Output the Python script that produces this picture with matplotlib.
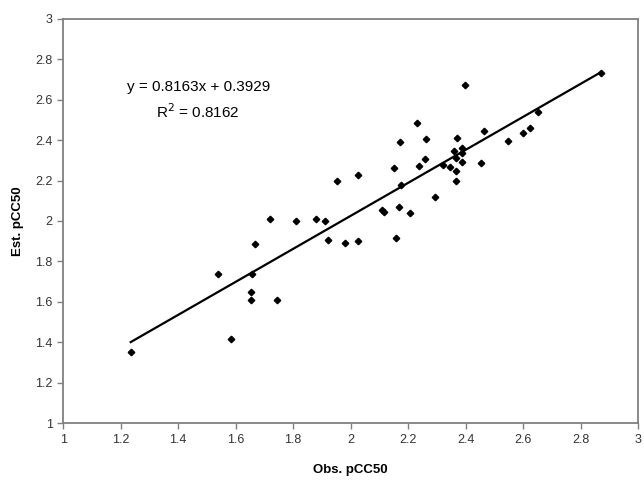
import numpy as np
import matplotlib.pyplot as plt

plt.rcParams['font.family'] = ['Liberation Sans', 'DejaVu Sans']

obs = [1.235, 1.537, 1.584, 1.657, 1.668, 1.655, 1.655, 1.744, 1.720, 1.809,
       1.878, 1.911, 1.922, 1.981, 2.025, 2.157, 1.952, 2.027, 2.398, 2.232,
       2.172, 2.263, 2.370, 2.465, 2.151, 2.238, 2.260, 2.320, 2.346, 2.359,
       2.387, 2.388, 2.366, 2.388, 2.365, 2.365, 2.452, 2.174, 2.294, 2.110,
       2.115, 2.167, 2.208, 2.548, 2.601, 2.623, 2.651, 2.870]
est = [1.353, 1.738, 1.417, 1.738, 1.884, 1.650, 1.608, 1.608, 2.008, 2.000,
       2.010, 1.998, 1.906, 1.893, 1.903, 1.914, 2.200, 2.227, 2.671, 2.484,
       2.392, 2.404, 2.408, 2.447, 2.260, 2.274, 2.305, 2.275, 2.269, 2.348,
       2.360, 2.335, 2.312, 2.290, 2.248, 2.198, 2.287, 2.178, 2.120, 2.054,
       2.043, 2.068, 2.042, 2.396, 2.434, 2.460, 2.541, 2.733]

slope = 0.8163
intercept = 0.3929
r2 = 0.8162

fig = plt.figure(figsize=(6.44, 4.82), dpi=100)
ax = fig.add_axes([0.098, 0.122, 0.893, 0.839])

ax.plot(obs, est, linestyle='none', marker='D', markersize=3.3,
        color='black', zorder=3)

# linear trend line over the data range
xs = np.array([min(obs), max(obs)])
ax.plot(xs, slope * xs + intercept, color='black', linewidth=1.6, zorder=2)

ax.set_xlim(1, 3)
ax.set_ylim(1, 3)
ax.set_xticks(np.arange(1, 3.01, 0.2))
ax.set_yticks(np.arange(1, 3.01, 0.2))
ax.set_xticklabels(['1', '1.2', '1.4', '1.6', '1.8', '2', '2.2', '2.4', '2.6', '2.8', '3'])
ax.set_yticklabels(['1', '1.2', '1.4', '1.6', '1.8', '2', '2.2', '2.4', '2.6', '2.8', '3'])
ax.tick_params(direction='out', length=4, width=1, color='#808080',
               labelsize=9, labelcolor='#333333')

for s in ax.spines.values():
    s.set_color('#808080')
    s.set_linewidth(1.3)

ax.set_xlabel('Obs. pCC50', fontsize=9.5, fontweight='bold', labelpad=13)
ax.set_ylabel('Est. pCC50', fontsize=9.5, fontweight='bold', labelpad=8)

ax.text(1.47, 2.663, f'y = {slope:.4f}x + {intercept:.4f}', ha='center',
        va='center', fontsize=11)
ax.text(1.47, 2.54, f'R$^2$ = {r2:.4f}', ha='center', va='center',
        fontsize=11)

fig.savefig('out.png', dpi=100)
